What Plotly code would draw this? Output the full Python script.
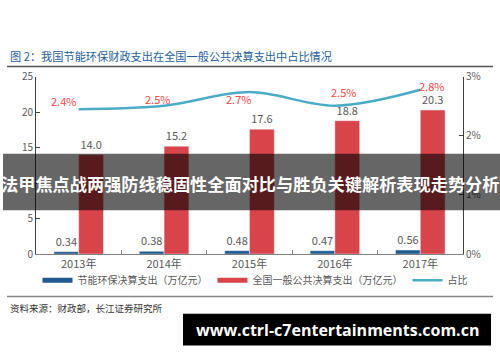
import plotly.graph_objects as go

categories = ["2013年", "2014年", "2015年", "2016年", "2017年"]
energy_spend = [0.34, 0.38, 0.48, 0.47, 0.56]
total_spend = [14.0, 15.2, 17.6, 18.8, 20.3]
share_pct = [2.45, 2.51, 2.74, 2.51, 2.78]
share_labels = ["2.4%", "2.5%", "2.7%", "2.5%", "2.8%"]
share_label_shift_x = [-15, -7, -11, 9, 11]
share_label_shift_y = [8, 7, -7, 14, 4]

BLUE = "#1f5b8e"
RED = "#d9434a"
CYAN = "#4bacc6"
GRAY = "#595959"
FONT = "Noto Sans CJK SC"

fig = go.Figure()

fig.add_trace(go.Bar(
    x=categories, y=energy_spend, marker_color=BLUE, showlegend=False,
    text=[f"{v:.2f}" for v in energy_spend], textposition="outside",
    textfont=dict(color=GRAY, size=11, family=FONT), cliponaxis=False,
))
fig.add_trace(go.Bar(
    x=categories, y=total_spend, marker_color=RED, showlegend=False,
    text=[f"{v:.1f}" for v in total_spend], textposition="outside",
    textfont=dict(color=GRAY, size=11, family=FONT), cliponaxis=False,
))
fig.add_trace(go.Scatter(
    x=categories, y=share_pct, yaxis="y2", mode="lines",
    line=dict(color=CYAN, width=2.5, shape="spline", smoothing=1.0),
    showlegend=False,
))

# legend entries drawn as line swatches
fig.add_trace(go.Scatter(x=[None], y=[None], mode="lines",
                         line=dict(color=BLUE, width=5), name="节能环保决算支出（万亿元）"))
fig.add_trace(go.Scatter(x=[None], y=[None], mode="lines",
                         line=dict(color=RED, width=5), name="全国一般公共决算支出（万亿元）"))
fig.add_trace(go.Scatter(x=[None], y=[None], mode="lines",
                         line=dict(color=CYAN, width=2.5), name="占比"))

for c, v, lab, dx, dy in zip(categories, share_pct, share_labels,
                             share_label_shift_x, share_label_shift_y):
    fig.add_annotation(x=c, y=v, yref="y2", text=lab, showarrow=False,
                       xshift=dx, yshift=dy,
                       font=dict(color="#ff4545", size=11, family=FONT))

H = 362.0
def py(px):
    return 1 - px / H

fig.update_layout(
    width=500, height=362,
    margin=dict(l=0, r=0, t=0, b=0),
    paper_bgcolor="white", plot_bgcolor="white",
    barmode="group", bargap=0.42, bargroupgap=0,
    font=dict(family=FONT, color=GRAY, size=11),
    xaxis=dict(domain=[36 / 500, 463 / 500], showline=True, linecolor="#7f7f7f",
               linewidth=1, ticks="inside", tickson="boundaries", ticklen=4,
               tickcolor="#7f7f7f", showgrid=False,
               tickfont=dict(size=11, color=GRAY, family=FONT)),
    yaxis=dict(domain=[py(256.7), py(71.7)], range=[0, 25], dtick=5,
               showline=True, linecolor="#404040", linewidth=1,
               ticks="inside", ticklen=4, tickcolor="#404040",
               showgrid=False, zeroline=False,
               tickfont=dict(size=10, color=GRAY, family=FONT)),
    yaxis2=dict(overlaying="y", side="right", range=[0, 3], dtick=1,
                ticksuffix="%", showline=True, linecolor="#404040", linewidth=1,
                ticks="inside", ticklen=4, tickcolor="#404040",
                showgrid=False, zeroline=False,
                tickfont=dict(size=10, color=GRAY, family=FONT)),
    legend=dict(orientation="h", x=0.075, xanchor="left", y=py(284), yanchor="middle",
                font=dict(size=10, color=GRAY, family=FONT), itemwidth=30,
                bgcolor="rgba(0,0,0,0)"),
)

# title, rules, source
fig.add_annotation(xref="paper", yref="paper", x=8 / 500, y=py(50), xanchor="left",
                   yanchor="middle", showarrow=False,
                   text="图 2：我国节能环保财政支出在全国一般公共决算支出中占比情况",
                   font=dict(size=11.2, color="#1e5e9a", family=FONT))
fig.add_shape(type="line", xref="paper", yref="paper", x0=7 / 500, x1=493 / 500,
              y0=py(61), y1=py(61), line=dict(color="#555555", width=1.5))
fig.add_shape(type="line", xref="paper", yref="paper", x0=7 / 500, x1=493 / 500,
              y0=py(301), y1=py(301), line=dict(color="#888888", width=1.5))
fig.add_annotation(xref="paper", yref="paper", x=8 / 500, y=py(313), xanchor="left",
                   yanchor="middle", showarrow=False,
                   text="资料来源：财政部，长江证券研究所",
                   font=dict(size=9.5, color="#333333", family=FONT))

# overlay banner
fig.add_shape(type="rect", xref="paper", yref="paper", x0=3 / 500, x1=1,
              y0=py(211), y1=py(152), fillcolor="rgba(0,0,0,0.6)",
              line=dict(width=0), layer="above")
fig.add_annotation(xref="paper", yref="paper", x=250 / 500, y=py(183),
                   xanchor="center", yanchor="middle", showarrow=False,
                   text="<b>法甲焦点战两强防线稳固性全面对比与胜负关键解析表现走势分析</b>",
                   font=dict(size=17.2, color="white", family=FONT))

# watermark
fig.add_shape(type="rect", xref="paper", yref="paper", x0=183 / 500, x1=491 / 500,
              y0=py(352), y1=py(319), fillcolor="black", line=dict(width=0),
              layer="above")
fig.add_annotation(xref="paper", yref="paper", x=337 / 500, y=py(335.5),
                   xanchor="center", yanchor="middle", showarrow=False,
                   text="<b>www.ctrl-c7entertainments.com.cn</b>",
                   font=dict(size=16, color="white", family="Open Sans"))

fig.write_html("out.html")
